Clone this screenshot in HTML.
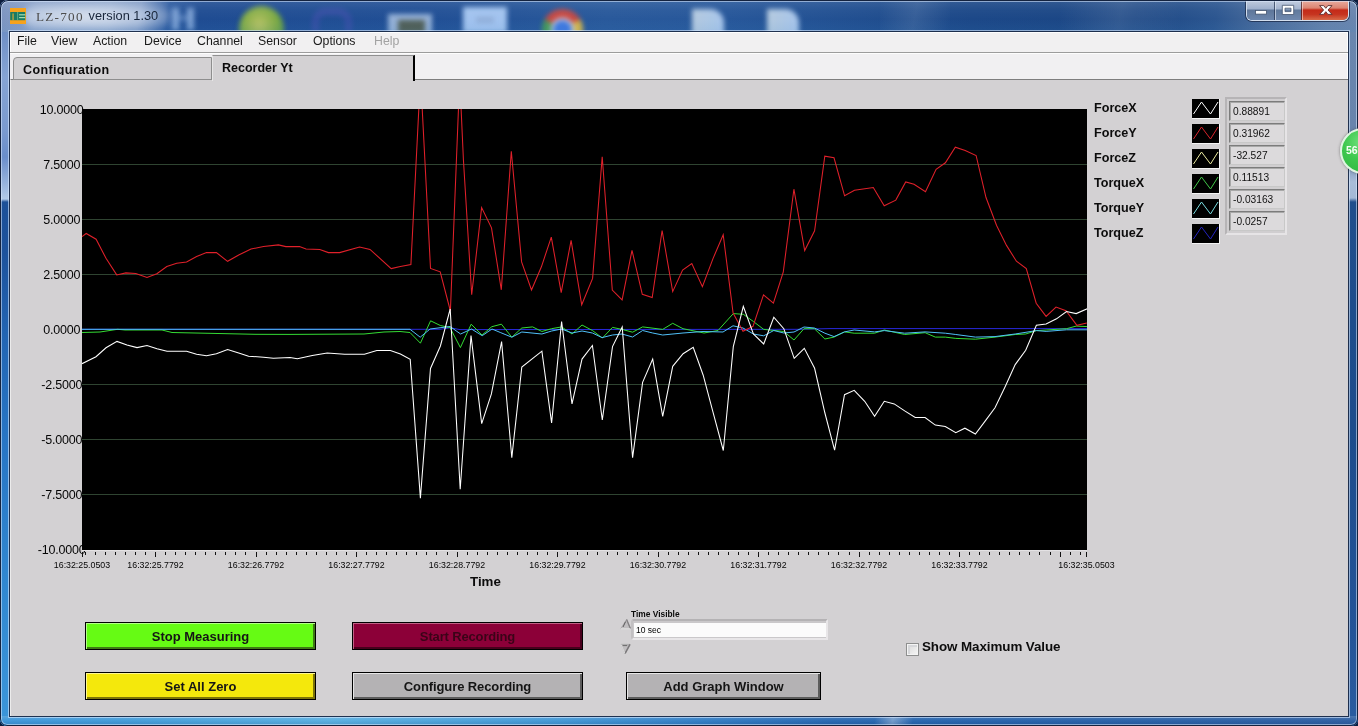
<!DOCTYPE html>
<html lang="en">
<head>
<meta charset="utf-8">
<title>LZ-700 version 1.30</title>
<style>
*{box-sizing:border-box;margin:0;padding:0}
html,body{width:1358px;height:726px;overflow:hidden;background:#0c1c3c;font-family:"Liberation Sans",sans-serif;color:#111}
.abs,.win *{position:absolute}
.win{position:absolute;left:0;top:0;width:1358px;height:726px;border-radius:8px 8px 7px 7px;overflow:hidden;background:#2a5ca0}
/* frame pieces */
.tbar{left:0;top:0;width:1358px;height:32px;background:linear-gradient(100deg,#7b93bf 0,#8aa2ca 40px,#8ea6cc 110px,#7d98c4 140px,#2c5aa0 168px,#1f4c92 200px,#214f95 420px,#29599b 600px,#27579a 720px,#1c4888 960px,#1b4684 1120px,#2c5690 1200px,#4a6c9c 1250px,#6482ac 1310px,#6e88b0 1358px)}
.tbar .shade{left:0;top:0;width:1358px;height:32px;background:linear-gradient(180deg,rgba(255,255,255,.10) 0,rgba(255,255,255,.03) 30%,rgba(255,255,255,0) 60%,rgba(60,140,200,.10) 100%)}
.lframe{left:0;top:32px;width:10px;height:694px;background:linear-gradient(180deg,#6f8fc5 0,#86a4d4 45px,#7a9acf 100px,#6a8ecb 125px,#98b4dd 152px,#b2cae8 167px,#1c5098 170px,#1d529c 220px,#2264b2 300px,#2774c4 400px,#3086d0 540px,#3c96da 694px)}
.rframe{left:1348px;top:32px;width:10px;height:694px;background:linear-gradient(180deg,#6a86ae 0,#6884ac 95px,#7690b8 130px,#a8bcd8 150px,#a4b8d6 166px,#1f4e8c 170px,#1d4c8c 400px,#245498 600px,#2a5ca0 694px)}
.bframe{left:0;top:716px;width:1358px;height:10px;background:linear-gradient(180deg,rgba(255,255,255,.16) 0,rgba(255,255,255,.04) 45%,rgba(0,20,60,.14) 100%),linear-gradient(100deg,rgba(255,255,255,0) 862px,rgba(255,255,255,.35) 880px,rgba(255,255,255,0) 900px),linear-gradient(90deg,#3a94d8 0,#3f9ad8 120px,#56aee0 330px,#3f96d4 560px,#2f7cc4 700px,#2466b0 830px,#2260aa 1000px,#2a5ca0 1358px)}
.edge{left:0;top:0;width:1358px;height:726px;border-radius:8px 8px 7px 7px;border:1px solid #14233f;box-shadow:inset 0 0 0 1px rgba(220,235,255,.55)}
.client{left:10px;top:32px;width:1338px;height:684px;background:#d3d1d3;box-shadow:0 0 0 1px rgba(16,32,62,.9),0 0 0 2px rgba(215,232,255,.62)}
/* desktop blobs behind glass */
.blob{filter:blur(2.8px)}
/* title */
.ticon{left:10px;top:8px;width:16px;height:16px;background:#f6a21c}
.glow{left:24px;top:4px;width:146px;height:25px;border-radius:12px;background:radial-gradient(ellipse at 42% 50%,rgba(255,255,255,.66) 0,rgba(240,245,252,.48) 50%,rgba(225,235,250,.1) 90%,rgba(220,232,250,0) 100%);filter:blur(3px)}
.t1{left:36px;top:6.5px;font-family:"Liberation Serif",serif;font-size:13.2px;line-height:20px;color:#4c4c4c;letter-spacing:1.25px;white-space:nowrap}
  .t2{left:88.5px;top:6px;font-size:12.8px;line-height:20px;color:#18253a;white-space:nowrap}
/* caption buttons */
.cap{left:1246px;top:0;width:103px;height:21px;border-radius:0 0 6px 6px;border:1px solid rgba(235,242,252,.85);border-top:none;box-shadow:0 0 0 1px rgba(25,40,70,.75);overflow:hidden}
.cap .b{top:0;height:20px}
.cap .mn{left:0;width:27px;background:linear-gradient(180deg,#c2cddf 0,#9fb0cc 45%,#5e7699 50%,#6c86ac 100%)}
.cap .mx{left:27px;width:27px;background:linear-gradient(180deg,#c6d0e2 0,#a3b3ce 45%,#617a9c 50%,#7089ae 100%);border-left:1px solid rgba(30,45,75,.7);box-shadow:inset 1px 0 0 rgba(235,242,252,.6)}
.cap .cl{left:54px;width:48px;background:linear-gradient(180deg,#eab0a4 0,#dc8472 40%,#c42a18 50%,#c63420 72%,#d86a48 100%);border-left:1px solid rgba(60,30,40,.7);box-shadow:inset 1px 0 0 rgba(250,225,220,.6)}
/* menu */
.menu{left:0;top:0;width:1338px;height:20px;background:#f1f0f1;box-shadow:inset 0 1px 0 #fff,inset 1px 0 0 #fff,inset -1px 0 0 #fff}
.menu span{top:0;font-size:12.3px;line-height:19px;color:#1a1a1a;white-space:nowrap}
.mline{left:0;top:20px;width:1338px;height:1px;background:#9c9c9c}
.strip{left:0;top:21px;width:1338px;height:27px;background:#f1f0f2;box-shadow:inset 0 1px 0 #fdfdfd,inset -1px 0 0 #fff}
.tab1{left:3px;top:25px;width:199px;height:23px;background:#d3d1d3;border:1px solid #8e8e8e;border-radius:4px 0 0 0;overflow:hidden}
.tab2{left:202px;top:23px;width:203px;height:26px;background:#d3d1d3;border-top:1px solid #909090;border-left:1px solid #e6e6e6;border-right:2px solid #000}
.tabt{font-weight:bold;font-size:12.5px;line-height:16px;white-space:nowrap;color:#0c0c0c}
.page{left:0;top:47px;width:1338px;height:637px;background:#d3d1d3;border-top:1px solid #7e7e7e;border-left:1px solid #ececec}
/* graph */
.plot{left:82px;top:109px;width:1005px;height:441px;background:#000;overflow:hidden}
.yl{left:31.7px;width:60px;text-align:center;font-size:12.5px;line-height:16px;letter-spacing:-.2px;color:#050505;white-space:nowrap}
.xl{top:559px;width:80px;text-align:center;font-size:8.8px;line-height:12px;letter-spacing:0px;color:#050505;white-space:nowrap}
.bold{font-weight:bold;white-space:nowrap;color:#0c0c0c}
.ln{left:1094px;font-weight:bold;font-size:12.6px;line-height:16px;white-space:nowrap;color:#0c0c0c}
.li{left:1192px;width:28px;height:20px;background:#000;border-right:1px solid #f4f4f4;border-bottom:1px solid #f4f4f4}
.li svg{left:0;top:0}
.lvf{left:1225px;top:97px;width:62px;height:138px;border:2px solid;border-color:#b6b4b6 #e6e4e6 #e6e4e6 #b6b4b6;background:#d0ced0}
.lv{left:1229px;width:56px;height:20px;border:1px solid;border-color:#7c7c7c #c8c8c8 #c8c8c8 #7c7c7c;box-shadow:inset 1px 1px 0 #a8a8a8;background:#dcdadc;font-size:10.2px;line-height:20px;padding-left:3px;white-space:nowrap;color:#111}
.btn{height:28px;border:1px solid #000;text-align:center;font-weight:bold;font-size:13px;line-height:28px;white-space:nowrap;color:#151515}
</style>
</head>
<body>
<div class="win">
  <div class="tbar">
    <!-- blurred desktop icons seen through the glass -->
    <div class="blob" style="left:172px;top:8px;width:7px;height:22px;background:#9fc0ea;opacity:.7"></div>
    <div class="blob" style="left:187px;top:8px;width:7px;height:22px;background:#9fc0ea;opacity:.7"></div>
    <div class="blob" style="left:176px;top:15px;width:14px;height:6px;background:#8fb2e2;opacity:.4"></div>
    <div class="blob" style="left:239px;top:6px;width:45px;height:45px;border-radius:50%;background:radial-gradient(circle at 45% 40%,#c8d060 0,#8cb63e 45%,#4f9a3c 80%,#3f8640 100%);opacity:.9"></div>
    <div class="blob" style="left:312px;top:8px;width:40px;height:24px;border-radius:14px 14px 0 0;border:7px solid #4c50b4;border-bottom:none;opacity:.45"></div>
    <div class="blob" style="left:388px;top:14px;width:44px;height:20px;background:#a9c2e2;opacity:.85"></div>
    <div class="blob" style="left:398px;top:20px;width:27px;height:14px;background:#4a5648;opacity:.9"></div>
    <div class="blob" style="left:463px;top:7px;width:44px;height:26px;background:#a9caf4;opacity:.95"></div>
    <div class="blob" style="left:476px;top:17px;width:18px;height:6px;background:#8aa6d0;opacity:.7"></div>
    <div class="blob" style="left:542px;top:9px;width:41px;height:41px;border-radius:50%;background:conic-gradient(from -60deg,#d8483a 0 120deg,#e8c040 120deg 240deg,#4aa050 240deg 360deg);opacity:.9"></div>
    <div class="blob" style="left:553px;top:20px;width:19px;height:19px;border-radius:50%;background:#3f78e0;box-shadow:0 0 0 2px #dfe8f4"></div>
    <div class="blob" style="left:692px;top:9px;width:32px;height:26px;border-radius:0 14px 0 0;background:linear-gradient(90deg,#bcd0e2,#aecbf0);opacity:.95"></div>
    <div class="blob" style="left:767px;top:9px;width:32px;height:26px;border-radius:0 14px 0 0;background:linear-gradient(90deg,#bcd0e2,#aecbf0);opacity:.95"></div>
    <div class="abs" style="left:880px;top:0;width:70px;height:32px;background:linear-gradient(100deg,rgba(255,255,255,0) 0,rgba(255,255,255,.10) 50%,rgba(255,255,255,0) 100%)"></div>
    <div class="abs" style="left:1060px;top:0;width:120px;height:32px;background:linear-gradient(100deg,rgba(255,255,255,0) 0,rgba(255,255,255,.10) 50%,rgba(255,255,255,0) 100%)"></div>
    <div class="shade"></div>
    <div class="glow"></div>
    <div class="ticon">
      <svg width="16" height="16" viewBox="0 0 16 16" style="left:0;top:0">
        <rect x="0.2" y="4" width="15" height="8.2" fill="#187a64"/><rect x="2.5" y="5.4" width="1.1" height="6.8" fill="#e8b030"/><rect x="7.3" y="4" width=".8" height="8.2" fill="#6fb890"/><rect x="9.1" y="6.2" width="6.1" height="1.2" fill="#a6dcae"/><rect x="9.1" y="9" width="6.1" height="1.2" fill="#a6dcae"/>
      </svg>
    </div>
    <span class="t1">LZ-700</span>
    <span class="t2">version 1.30</span>
    <div class="cap">
      <div class="b mn"><svg width="27" height="20" style="left:0;top:0"><rect x="8.5" y="10.5" width="11" height="3.6" fill="#fff" stroke="#44546e" stroke-width=".8"/></svg></div>
      <div class="b mx"><svg width="27" height="20" style="left:0;top:0"><path d="M7.3 5.3h11.4v9.2H7.3Z M10 8.2v3.4h6v-3.4Z" fill="#fff" fill-rule="evenodd" stroke="#44546e" stroke-width=".8"/></svg></div>
      <div class="b cl"><svg width="48" height="20" style="left:0;top:0"><path d="M17.6 5.6h4.1l2.1 2.7 2.1-2.7h4.1l-4 4.4 4 4.4h-4.1l-2.1-2.7-2.1 2.7h-4.1l4-4.4Z" fill="#fff" stroke="#5a2c2c" stroke-width=".9"/></svg></div>
    </div>
  </div>
  <div class="lframe"></div>
  <div class="rframe"></div>
  <div class="bframe"></div>
  <div class="edge"></div>

  <div class="client">
    <div class="menu">
      <span style="left:7px">File</span>
      <span style="left:41px">View</span>
      <span style="left:83px">Action</span>
      <span style="left:134px">Device</span>
      <span style="left:187px">Channel</span>
      <span style="left:248px">Sensor</span>
      <span style="left:303px">Options</span>
      <span style="left:364px;color:#a2a2a2">Help</span>
    </div>
    <div class="mline"></div>
    <div class="strip"></div>
    <div class="page"></div>
    <div class="tab1"><span class="tabt" style="left:9px;top:4px;height:13px;overflow:hidden;letter-spacing:.36px">Configuration</span></div>
    <div class="tab2"><span class="tabt" style="left:9px;top:4px">Recorder Yt</span></div>
  </div>

  <!-- page-coordinates content -->
  <div class="abs" id="content" style="left:0;top:0;width:1348px;height:716px">
    <span class="yl" style="top:101.5px">10.0000</span><span class="yl" style="top:156.5px">7.5000</span><span class="yl" style="top:211.5px">5.0000</span><span class="yl" style="top:266.5px">2.5000</span><span class="yl" style="top:321.5px">0.0000</span><span class="yl" style="top:376.5px">-2.5000</span><span class="yl" style="top:431.5px">-5.0000</span><span class="yl" style="top:486.5px">-7.5000</span><span class="yl" style="top:541.5px">-10.0000</span>
    <div class="plot">
      <svg width="1005" height="441" viewBox="0 0 1005 441" style="left:0;top:0" shape-rendering="auto">
        <g stroke="#2f4431" stroke-width="1" shape-rendering="crispEdges"><line x1="0" x2="1005" y1="55.5" y2="55.5"/><line x1="0" x2="1005" y1="110.5" y2="110.5"/><line x1="0" x2="1005" y1="165.5" y2="165.5"/><line x1="0" x2="1005" y1="275.5" y2="275.5"/><line x1="0" x2="1005" y1="330.5" y2="330.5"/><line x1="0" x2="1005" y1="385.5" y2="385.5"/></g>
        <g fill="none" stroke-width="1" stroke-linejoin="miter">
          <polyline stroke="#2828dc" points="0.0,220.3 358.0,220.3 368.0,218.8 378.0,220.6 718.0,220.3 748.0,219.6 1005.2,219.6"/>
          <polyline stroke="#34dc34" points="0.0,223.5 18.0,223.0 35.6,220.3 43.0,221.0 80.0,221.0 90.0,223.5 173.0,225.3 208.0,225.4 282.0,225.0 302.0,223.0 318.0,222.5 328.0,223.5 338.4,234.2 348.6,211.8 358.3,216.5 368.0,218.6 378.4,238.6 389.2,215.2 400.0,226.0 409.8,217.7 419.4,215.2 429.8,228.2 439.8,219.0 450.6,217.9 459.9,222.5 469.6,219.7 479.6,217.9 490.0,225.0 500.0,216.0 510.4,221.5 520.4,229.0 530.5,218.4 540.0,220.4 550.6,223.2 560.6,217.9 580.7,220.4 590.7,214.3 601.0,219.7 622.0,224.0 636.0,221.5 651.3,204.6 661.3,205.3 671.4,212.5 681.7,220.4 701.8,222.5 712.0,231.0 722.0,219.7 732.4,219.7 742.9,230.0 752.0,228.1 762.5,222.9 772.2,224.2 792.6,224.2 802.3,221.0 822.7,225.5 843.1,223.7 853.3,228.1 863.3,228.1 873.8,229.4 893.4,230.2 913.0,228.1 933.2,225.5 943.7,225.0 954.4,221.6 984.5,219.7 994.2,217.1 1005.2,217.6"/>
          <polyline stroke="#50c0f8" points="0.0,220.3 328.0,220.3 338.2,228.2 348.1,220.0 368.0,217.5 378.6,225.0 389.5,220.0 400.2,226.7 410.0,220.0 418.8,223.7 429.8,228.2 439.8,223.0 459.9,225.0 469.6,222.0 479.6,220.0 490.0,224.0 500.0,222.0 510.4,224.0 520.0,228.6 530.5,226.0 540.0,225.0 550.6,228.0 560.6,221.5 570.7,224.0 580.7,226.0 601.0,224.0 621.0,222.5 641.0,223.0 651.0,216.8 661.0,219.0 671.4,225.0 681.7,226.8 691.8,221.5 701.8,224.0 712.0,223.0 722.0,218.0 732.4,219.0 742.9,224.2 752.0,227.6 762.5,222.9 772.2,221.0 792.6,222.9 802.3,221.6 822.7,224.2 843.1,222.9 863.3,224.2 873.8,225.5 893.4,228.1 913.0,227.6 933.2,225.0 954.4,221.6 964.1,222.4 984.5,220.8 1005.2,220.8"/>
          <polyline stroke="#e0202a" stroke-width="1.05" points="0.0,127.7 4.2,124.5 14.1,130.2 24.0,149.3 34.7,165.9 43.9,163.9 53.8,164.4 65.0,168.4 74.9,164.7 84.8,157.5 94.7,154.2 104.6,153.0 114.6,147.5 124.5,143.6 134.4,143.6 145.6,152.3 156.7,146.0 169.0,140.0 181.5,137.6 196.4,135.9 203.9,137.6 217.5,137.6 224.0,139.9 237.8,140.6 246.4,143.6 257.6,143.6 277.6,138.0 288.0,140.4 309.2,159.6 318.4,157.6 328.9,155.6 338.5,-33.0 348.5,159.4 358.2,162.8 368.4,202.0 377.7,-31.0 381.4,50.5 389.7,185.6 399.6,98.6 409.5,118.8 419.3,180.8 429.3,42.2 439.6,152.9 449.5,181.0 459.4,157.8 469.3,128.1 479.2,183.6 489.1,131.4 499.7,195.8 510.6,169.4 520.2,47.8 530.3,181.0 540.1,190.9 550.0,141.3 560.3,185.3 570.2,188.6 580.1,121.5 590.7,182.6 600.6,161.1 609.8,154.5 620.4,177.7 631.0,149.6 641.2,125.8 651.1,204.1 661.0,222.3 671.0,217.3 681.5,185.9 691.4,194.2 701.3,162.8 711.9,80.2 722.7,141.6 732.6,121.8 742.8,47.2 752.0,48.8 762.6,86.8 772.5,81.2 791.3,78.5 802.2,96.7 813.8,91.1 823.7,72.9 832.0,75.2 843.5,82.8 854.1,60.4 863.4,53.8 873.3,38.2 883.2,41.5 894.1,46.5 904.0,88.5 914.6,116.5 924.5,136.4 934.4,152.2 944.3,159.5 954.2,194.2 964.1,207.4 974.0,198.1 984.0,201.8 994.9,216.3 1004.8,214.0"/>
          <polyline stroke="#ffffff" stroke-width="1.05" points="0.0,254.7 14.0,247.7 24.0,238.8 35.0,232.4 45.0,236.0 55.0,238.6 65.0,236.6 75.0,239.8 85.0,242.3 104.6,242.3 114.6,245.3 124.5,246.7 134.4,244.8 145.6,240.6 156.7,244.0 166.6,247.2 181.5,248.2 191.4,249.2 208.0,248.5 215.4,249.7 230.3,246.5 245.2,244.0 262.6,245.3 282.4,245.3 294.8,241.5 308.4,241.5 318.4,245.0 328.2,250.3 338.4,389.1 348.5,259.5 358.4,237.0 368.2,200.0 378.2,380.2 389.0,226.6 399.7,314.6 409.4,284.9 419.6,232.6 429.8,348.6 439.8,258.0 459.9,242.2 469.6,313.9 479.6,212.5 490.0,294.9 500.0,250.1 510.4,236.5 520.3,311.0 530.5,237.6 540.2,217.9 550.6,348.6 560.6,273.4 570.7,250.1 580.7,307.4 590.7,257.3 601.1,244.7 611.2,238.3 621.2,266.2 631.2,303.9 641.3,341.5 651.3,237.6 661.3,197.4 671.4,225.0 681.7,235.0 691.8,208.2 701.8,219.7 712.2,249.4 722.3,239.3 732.6,259.3 742.9,304.0 752.6,341.2 762.5,285.7 772.2,281.3 782.7,292.3 792.6,307.4 802.3,292.3 812.2,294.9 822.7,301.9 833.2,308.5 843.1,308.5 853.3,316.1 863.3,317.6 873.8,323.7 882.9,319.2 893.4,325.0 903.3,311.9 913.0,298.8 923.0,277.9 933.2,255.6 943.7,241.2 954.4,216.3 964.1,215.0 974.5,209.8 984.5,202.5 994.2,204.6 1005.2,199.8"/>
        </g>
      </svg>
    </div>
    <div class="abs" style="left:82px;top:550px;width:1005px;height:1px;background:#e4e2e4"></div><svg width="1006" height="8" viewBox="0 0 1006 8" style="left:82px;top:551px" shape-rendering="crispEdges"><g stroke="#111" stroke-width="1"><line x1="3.1" x2="3.1" y1="0.5" y2="3.5"/><line x1="13.2" x2="13.2" y1="0.5" y2="3.5"/><line x1="23.2" x2="23.2" y1="0.5" y2="3.5"/><line x1="33.3" x2="33.3" y1="0.5" y2="3.5"/><line x1="43.3" x2="43.3" y1="0.5" y2="3.5"/><line x1="53.4" x2="53.4" y1="0.5" y2="3.5"/><line x1="63.4" x2="63.4" y1="0.5" y2="3.5"/><line x1="73.5" x2="73.5" y1="0.5" y2="6.0"/><line x1="83.6" x2="83.6" y1="0.5" y2="3.5"/><line x1="93.6" x2="93.6" y1="0.5" y2="3.5"/><line x1="103.7" x2="103.7" y1="0.5" y2="3.5"/><line x1="113.7" x2="113.7" y1="0.5" y2="3.5"/><line x1="123.8" x2="123.8" y1="0.5" y2="3.5"/><line x1="133.8" x2="133.8" y1="0.5" y2="3.5"/><line x1="143.9" x2="143.9" y1="0.5" y2="3.5"/><line x1="153.9" x2="153.9" y1="0.5" y2="3.5"/><line x1="163.9" x2="163.9" y1="0.5" y2="3.5"/><line x1="174.0" x2="174.0" y1="0.5" y2="6.0"/><line x1="184.1" x2="184.1" y1="0.5" y2="3.5"/><line x1="194.1" x2="194.1" y1="0.5" y2="3.5"/><line x1="204.1" x2="204.1" y1="0.5" y2="3.5"/><line x1="214.2" x2="214.2" y1="0.5" y2="3.5"/><line x1="224.2" x2="224.2" y1="0.5" y2="3.5"/><line x1="234.3" x2="234.3" y1="0.5" y2="3.5"/><line x1="244.4" x2="244.4" y1="0.5" y2="3.5"/><line x1="254.4" x2="254.4" y1="0.5" y2="3.5"/><line x1="264.5" x2="264.5" y1="0.5" y2="3.5"/><line x1="274.5" x2="274.5" y1="0.5" y2="6.0"/><line x1="284.6" x2="284.6" y1="0.5" y2="3.5"/><line x1="294.6" x2="294.6" y1="0.5" y2="3.5"/><line x1="304.6" x2="304.6" y1="0.5" y2="3.5"/><line x1="314.7" x2="314.7" y1="0.5" y2="3.5"/><line x1="324.8" x2="324.8" y1="0.5" y2="3.5"/><line x1="334.8" x2="334.8" y1="0.5" y2="3.5"/><line x1="344.9" x2="344.9" y1="0.5" y2="3.5"/><line x1="354.9" x2="354.9" y1="0.5" y2="3.5"/><line x1="365.0" x2="365.0" y1="0.5" y2="3.5"/><line x1="375.0" x2="375.0" y1="0.5" y2="6.0"/><line x1="385.1" x2="385.1" y1="0.5" y2="3.5"/><line x1="395.1" x2="395.1" y1="0.5" y2="3.5"/><line x1="405.2" x2="405.2" y1="0.5" y2="3.5"/><line x1="415.2" x2="415.2" y1="0.5" y2="3.5"/><line x1="425.2" x2="425.2" y1="0.5" y2="3.5"/><line x1="435.3" x2="435.3" y1="0.5" y2="3.5"/><line x1="445.4" x2="445.4" y1="0.5" y2="3.5"/><line x1="455.4" x2="455.4" y1="0.5" y2="3.5"/><line x1="465.5" x2="465.5" y1="0.5" y2="3.5"/><line x1="475.5" x2="475.5" y1="0.5" y2="6.0"/><line x1="485.5" x2="485.5" y1="0.5" y2="3.5"/><line x1="495.6" x2="495.6" y1="0.5" y2="3.5"/><line x1="505.7" x2="505.7" y1="0.5" y2="3.5"/><line x1="515.7" x2="515.7" y1="0.5" y2="3.5"/><line x1="525.8" x2="525.8" y1="0.5" y2="3.5"/><line x1="535.8" x2="535.8" y1="0.5" y2="3.5"/><line x1="545.9" x2="545.9" y1="0.5" y2="3.5"/><line x1="555.9" x2="555.9" y1="0.5" y2="3.5"/><line x1="566.0" x2="566.0" y1="0.5" y2="3.5"/><line x1="576.0" x2="576.0" y1="0.5" y2="6.0"/><line x1="586.1" x2="586.1" y1="0.5" y2="3.5"/><line x1="596.1" x2="596.1" y1="0.5" y2="3.5"/><line x1="606.2" x2="606.2" y1="0.5" y2="3.5"/><line x1="616.2" x2="616.2" y1="0.5" y2="3.5"/><line x1="626.2" x2="626.2" y1="0.5" y2="3.5"/><line x1="636.3" x2="636.3" y1="0.5" y2="3.5"/><line x1="646.4" x2="646.4" y1="0.5" y2="3.5"/><line x1="656.4" x2="656.4" y1="0.5" y2="3.5"/><line x1="666.5" x2="666.5" y1="0.5" y2="3.5"/><line x1="676.5" x2="676.5" y1="0.5" y2="6.0"/><line x1="686.6" x2="686.6" y1="0.5" y2="3.5"/><line x1="696.6" x2="696.6" y1="0.5" y2="3.5"/><line x1="706.7" x2="706.7" y1="0.5" y2="3.5"/><line x1="716.7" x2="716.7" y1="0.5" y2="3.5"/><line x1="726.8" x2="726.8" y1="0.5" y2="3.5"/><line x1="736.8" x2="736.8" y1="0.5" y2="3.5"/><line x1="746.9" x2="746.9" y1="0.5" y2="3.5"/><line x1="756.9" x2="756.9" y1="0.5" y2="3.5"/><line x1="767.0" x2="767.0" y1="0.5" y2="3.5"/><line x1="777.0" x2="777.0" y1="0.5" y2="6.0"/><line x1="787.1" x2="787.1" y1="0.5" y2="3.5"/><line x1="797.1" x2="797.1" y1="0.5" y2="3.5"/><line x1="807.2" x2="807.2" y1="0.5" y2="3.5"/><line x1="817.2" x2="817.2" y1="0.5" y2="3.5"/><line x1="827.2" x2="827.2" y1="0.5" y2="3.5"/><line x1="837.3" x2="837.3" y1="0.5" y2="3.5"/><line x1="847.4" x2="847.4" y1="0.5" y2="3.5"/><line x1="857.4" x2="857.4" y1="0.5" y2="3.5"/><line x1="867.5" x2="867.5" y1="0.5" y2="3.5"/><line x1="877.5" x2="877.5" y1="0.5" y2="6.0"/><line x1="887.6" x2="887.6" y1="0.5" y2="3.5"/><line x1="897.6" x2="897.6" y1="0.5" y2="3.5"/><line x1="907.7" x2="907.7" y1="0.5" y2="3.5"/><line x1="917.7" x2="917.7" y1="0.5" y2="3.5"/><line x1="927.8" x2="927.8" y1="0.5" y2="3.5"/><line x1="937.8" x2="937.8" y1="0.5" y2="3.5"/><line x1="947.8" x2="947.8" y1="0.5" y2="3.5"/><line x1="957.9" x2="957.9" y1="0.5" y2="3.5"/><line x1="968.0" x2="968.0" y1="0.5" y2="3.5"/><line x1="978.0" x2="978.0" y1="0.5" y2="6.0"/><line x1="988.1" x2="988.1" y1="0.5" y2="3.5"/><line x1="998.1" x2="998.1" y1="0.5" y2="3.5"/><line x1="0.5" x2="0.5" y1="0.5" y2="6"/><line x1="1004.5" x2="1004.5" y1="0.5" y2="6"/></g></svg>
    <span class="xl" style="left:42.0px">16:32:25.0503</span><span class="xl" style="left:115.5px">16:32:25.7792</span><span class="xl" style="left:216.0px">16:32:26.7792</span><span class="xl" style="left:316.5px">16:32:27.7792</span><span class="xl" style="left:417.0px">16:32:28.7792</span><span class="xl" style="left:517.5px">16:32:29.7792</span><span class="xl" style="left:618.0px">16:32:30.7792</span><span class="xl" style="left:718.5px">16:32:31.7792</span><span class="xl" style="left:819.0px">16:32:32.7792</span><span class="xl" style="left:919.5px">16:32:33.7792</span><span class="xl" style="left:1046.5px">16:32:35.0503</span>
    <span class="bold" style="left:470px;top:573.5px;font-size:13.3px;line-height:16px">Time</span>
    <div class="lvf"></div>
    <span class="ln" style="top:100px">ForceX</span><span class="li" style="top:99px"><svg width="27" height="19" viewBox="0 0 27 19"><polyline points="1.5,15 9.5,3 18.5,15 26,3" fill="none" stroke="#ffffff" stroke-width="1"/></svg></span><span class="lv" style="top:101px">0.88891</span><span class="ln" style="top:125px">ForceY</span><span class="li" style="top:124px"><svg width="27" height="19" viewBox="0 0 27 19"><polyline points="1.5,15 9.5,3 18.5,15 26,3" fill="none" stroke="#d8242c" stroke-width="1"/></svg></span><span class="lv" style="top:123px">0.31962</span><span class="ln" style="top:150px">ForceZ</span><span class="li" style="top:149px"><svg width="27" height="19" viewBox="0 0 27 19"><polyline points="1.5,15 9.5,3 18.5,15 26,3" fill="none" stroke="#ececa0" stroke-width="1"/></svg></span><span class="lv" style="top:145px">-32.527</span><span class="ln" style="top:175px">TorqueX</span><span class="li" style="top:174px"><svg width="27" height="19" viewBox="0 0 27 19"><polyline points="1.5,15 9.5,3 18.5,15 26,3" fill="none" stroke="#40c848" stroke-width="1"/></svg></span><span class="lv" style="top:167px">0.11513</span><span class="ln" style="top:200px">TorqueY</span><span class="li" style="top:199px"><svg width="27" height="19" viewBox="0 0 27 19"><polyline points="1.5,15 9.5,3 18.5,15 26,3" fill="none" stroke="#78dce0" stroke-width="1"/></svg></span><span class="lv" style="top:189px">-0.03163</span><span class="ln" style="top:225px">TorqueZ</span><span class="li" style="top:224px"><svg width="27" height="19" viewBox="0 0 27 19"><polyline points="1.5,15 9.5,3 18.5,15 26,3" fill="none" stroke="#2424c0" stroke-width="1"/></svg></span><span class="lv" style="top:211px">-0.0257</span>

    <div class="btn" style="left:85px;top:622px;width:231px;background:#66fb14;box-shadow:inset 1px 1px 0 #b4ff86,inset -2px -2px 0 #3f7a14">Stop Measuring</div>
    <div class="btn" style="left:352px;top:622px;width:231px;background:#8c0038;color:#3a0418;letter-spacing:-.15px;box-shadow:inset 1px 1px 0 #c06084,inset -2px -2px 0 #48001c">Start Recording</div>
    <div class="btn" style="left:85px;top:672px;width:231px;background:#f4e80c;box-shadow:inset 1px 1px 0 #fff890,inset -2px -2px 0 #7c7408">Set All Zero</div>
    <div class="btn" style="left:352px;top:672px;width:231px;background:#b4b2b4;letter-spacing:-.1px;box-shadow:inset 1px 1px 0 #e6e6e6,inset -2px -2px 0 #5c5c5c">Configure Recording</div>
    <div class="btn" style="left:626px;top:672px;width:195px;background:#b4b2b4;box-shadow:inset 1px 1px 0 #e6e6e6,inset -2px -2px 0 #5c5c5c">Add Graph Window</div>

    <span class="bold" style="left:631px;top:609px;font-size:8.4px;line-height:10px">Time Visible</span>
    <div class="abs" style="left:631px;top:619px;width:197px;height:21px;border:2px solid;border-color:#b4b2b4 #e8e6e8 #e8e6e8 #c2c0c2;border-radius:3px 0 0 3px;background:#cac8ca"></div>
    <div class="abs" style="left:634px;top:623px;width:192px;height:14px;background:#fbfbfb;font-size:8.5px;line-height:14px;padding-left:2px;color:#000;white-space:nowrap">10 sec</div>
    <svg width="12" height="12" viewBox="0 0 12 12" style="left:620px;top:618px"><path d="M6.6 1.4 10.4 10.6H0.8Z" fill="#c0bec0" stroke="#a6a4a6" stroke-width=".8"/><path d="M6.6 1.4 10.4 10.6" stroke="#828082" stroke-width="1.3" fill="none"/><path d="M5.6 3.6 3 9" stroke="#5a5a5a" stroke-width="1" fill="none"/><path d="M0.8 10.8H10.4" stroke="#ececec" fill="none"/></svg>
    <svg width="12" height="12" viewBox="0 0 12 12" style="left:620px;top:643px"><path d="M1 1.4h9L5 10.6Z" fill="#c0bec0" stroke="#a6a4a6" stroke-width=".8"/><path d="M10 1.4 5 10.6" stroke="#7a787a" stroke-width="1.5" fill="none"/><path d="M2.6 2.6h4.6" stroke="#6a6a6a" stroke-width="1" fill="none"/><path d="M1 1.4 5 10.6" stroke="#e6e6e6" stroke-width=".8" fill="none"/></svg>

    <div class="abs" style="left:906px;top:643px;width:13px;height:13px;border:1px solid #8e8f8f;background:linear-gradient(135deg,#d8d8d8 0,#f6f6f6 100%);box-shadow:inset 0 0 0 1px #f4f4f4, inset 2px 2px 0 1px #d6d7da"></div>
    <span class="bold" style="left:922px;top:639px;font-size:13.4px;line-height:16px;letter-spacing:-.08px">Show Maximum Value</span>
  </div>

  <!-- green badge cut by the right edge -->
  <div class="abs" style="left:1340px;top:128px;width:46px;height:46px;border-radius:50%;background:radial-gradient(circle at 45% 30%,#6fe07c 0,#3ec84e 45%,#2fb440 100%);border:2px solid #dff5e2;box-shadow:0 0 3px rgba(60,60,60,.6)"></div>
  <span class="abs" style="left:1346px;top:144px;font-weight:bold;font-size:10.5px;line-height:13px;color:#f4fff4;white-space:nowrap">56</span>
</div>
</body>
</html>
